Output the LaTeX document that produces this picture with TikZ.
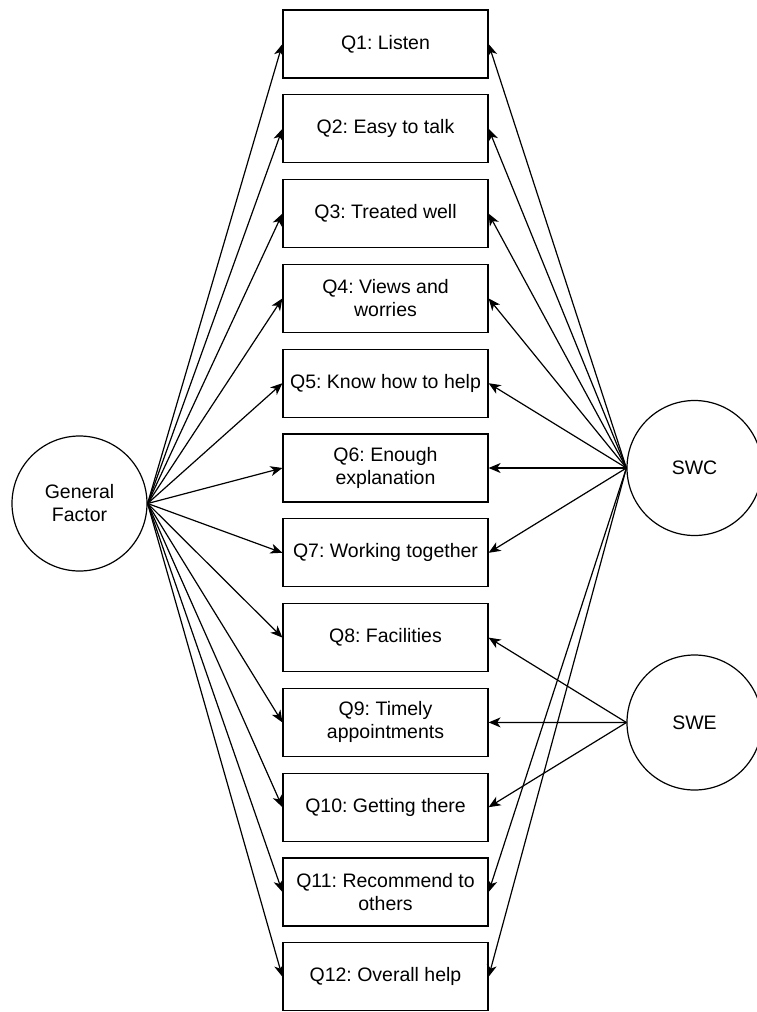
\documentclass[tikz,border=0pt]{standalone}
\usepackage{fontspec}
\setmainfont{Liberation Sans}
\usetikzlibrary{arrows.meta}
\frenchspacing
\begin{document}
\begin{tikzpicture}[x=1pt,y=-1pt,
  qbox/.style={draw,line width=1.2pt,minimum width=205pt,minimum height=68pt,inner sep=0pt,align=center,font=\fontsize{19.5}{23}\selectfont},
  factor/.style={draw,circle,line width=1.2pt,minimum size=135pt,inner sep=0pt,align=center,font=\fontsize{19.5}{23}\selectfont},
  link/.style={line width=1.2pt,-{Stealth[length=12pt,width=10pt,inset=3.5pt]}}]
\useasboundingbox (0,0) rectangle (756,1012);
\node[qbox] (q1) at (385.5,44) {Q1: Listen};
\node[qbox] (q2) at (385.5,128.8) {Q2: Easy to talk};
\node[qbox] (q3) at (385.5,213.6) {Q3: Treated well};
\node[qbox] (q4) at (385.5,298.4) {Q4: Views and\\worries};
\node[qbox] (q5) at (385.5,383.2) {Q5: Know how to help};
\node[qbox] (q6) at (385.5,468) {Q6: Enough\\explanation};
\node[qbox] (q7) at (385.5,552.8) {Q7: Working together};
\node[qbox] (q8) at (385.5,637.6) {Q8: Facilities};
\node[qbox] (q9) at (385.5,722.4) {Q9: Timely\\appointments};
\node[qbox] (q10) at (385.5,807.2) {Q10: Getting there};
\node[qbox] (q11) at (385.5,892) {Q11: Recommend to\\others};
\node[qbox] (q12) at (385.5,976.8) {Q12: Overall help};
\node[factor] (gf) at (79.5,503.5) {General\\Factor};
\node[factor] (swc) at (694.5,468) {SWC};
\node[factor] (swe) at (694.5,722.5) {SWE};
\foreach \i in {1,...,12} {\draw[link] (gf.east) -- (q\i.west);}
\foreach \i in {1,2,3,4,5,6,7,11,12} {\draw[link] (swc.west) -- (q\i.east);}
\foreach \i in {8,9,10} {\draw[link] (swe.west) -- (q\i.east);}
\end{tikzpicture}
\end{document}
